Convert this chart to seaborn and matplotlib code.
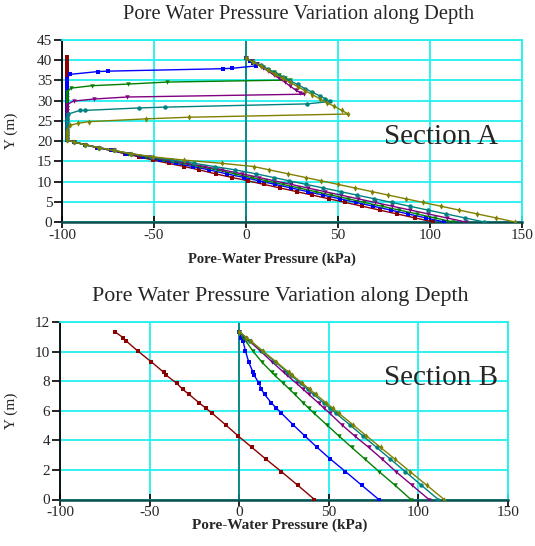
import matplotlib
matplotlib.use("Agg")
import matplotlib.pyplot as plt
import pandas as pd
import seaborn as sns

# ---------------------------------------------------------------- series
STEPS = ["Step 1", "Step 2", "Step 3", "Step 4", "Step 5", "Step 6"]
COLORS = ["#8b0000", "#0000ff", "#008000", "#800080", "#008080", "#808000"]
MARKERS = ["s", "s", "v", "v", "o", "d"]

# ---------------------------------------------------------------- Section A
# upper profile (surface down to the suction front), per step
A_UP_P = {
    "Step 1": [],
    "Step 2": [0, 2.0, 4.0, 5.4, -7.6, -12.7, -75.2, -80.3, -95.7],
    "Step 3": [0, 3, 6, 9, 12, 15, 18, 21, 24, -43.1, -64.2, -83.7, -95.1],
    "Step 4": [0, 3, 6, 9, 12, 15, 18, 21, 24, 27, 29.5, 31.7, -64.9, -82.8, -93.7],
    "Step 5": [0, 4, 8, 12, 16, 20, 24, 28, 32, 36, 40, 43, 45.8, 33.1, -44.2,
               -58.0, -87.3, -90.2, -96.6],
    "Step 6": [0, 4, 8, 12, 16, 20, 24, 28, 32, 36, 40, 44, 48, 52, 55.6, -31.2,
               -54.4, -85.5, -91.5, -95.5],
}
A_UP_Y = {
    "Step 1": [],
    "Step 2": [40.5, 39.8, 39.2, 38.6, 38.0, 37.9, 37.3, 37.2, 36.5],
    "Step 3": [40.5, 39.8, 39.1, 38.4, 37.7, 37.0, 36.3, 35.6, 35.1, 34.6, 34.1, 33.7, 33.1],
    "Step 4": [40.5, 39.8, 39.0, 38.2, 37.3, 36.4, 35.5, 34.6, 33.6, 32.6, 32.0, 31.6,
               30.9, 30.4, 29.9],
    "Step 5": [40.5, 39.6, 38.7, 37.8, 36.8, 35.9, 34.9, 34.0, 33.0, 32.1, 31.2, 30.5,
               29.8, 29.2, 28.4, 28.2, 27.6, 27.6, 26.7],
    "Step 6": [40.5, 39.5, 38.5, 37.5, 36.5, 35.5, 34.5, 33.5, 32.5, 31.5, 30.5, 29.5,
               28.6, 27.6, 26.7, 25.9, 25.5, 24.8, 24.4, 23.9],
}

# residual suction zone
A_STEM_P = -97.5
A_STEM_Y = [40.7, 40.1, 39.4, 38.6, 37.8, 37.0, 36.2, 35.4, 34.6, 33.8, 33.0, 32.2,
            31.4, 30.6, 29.8, 29.0, 28.2, 27.4, 26.6, 25.8, 25.0, 24.2, 23.4, 22.6,
            21.8, 21.0]

# lower profile, shared nodes from Y = 20.3 m to the base
A_LOW_Y = [20.3, 19.8, 19.1, 18.4, 17.7, 16.9, 16.1, 15.3, 14.5, 13.7, 12.9, 11.9,
           11.0, 10.2, 9.3, 8.4, 7.5, 6.65, 5.75, 4.85, 3.9, 2.95, 2.0, 1.0, 0.0]
A_LOW_P = {
    "Step 1": [-97.5, -93.5, -87.5, -81, -73.5, -66, -58, -50.5, -42, -33.5, -25.5,
               -16.5, -7.5, 0.9, 9.7, 18.7, 27.6, 36.0, 44.9, 53.8, 63.2, 72.6, 82.0,
               92.0, 101.8],
    "Step 2": [-97.5, -93.5, -87.5, -80.5, -73, -65, -56, -47, -38, -29, -20, -10.5,
               -1.0, 6.9, 15.8, 24.7, 33.6, 42.0, 50.9, 59.8, 69.2, 78.6, 88.0, 97.9,
               107.8],
    "Step 3": [-97.5, -93.5, -87.5, -80.5, -72.5, -64, -54.5, -44.5, -34.5, -25, -16,
               -6, 3.0, 11.0, 20.0, 28.9, 37.9, 46.4, 55.4, 64.3, 73.8, 83.3, 92.8,
               102.7, 112.7],
    "Step 4": [-97.5, -93.5, -87.5, -80, -72, -63, -52.5, -42, -32, -22.5, -13, -2,
               7.1, 15.3, 24.5, 33.7, 42.9, 51.6, 60.7, 69.9, 79.6, 89.3, 99.0, 109.2,
               119.4],
    "Step 5": [-97.5, -93.5, -87.5, -80, -72, -62.5, -51.5, -40, -28, -17, -6, 5.6,
               15.0, 23.3, 32.7, 42.1, 51.5, 60.3, 69.7, 79.1, 89.0, 98.8, 108.7, 119.1,
               129.5],
    "Step 6": [-97.5, -93.5, -87.5, -80, -72, -62.5, -50.5, -33.5, -13, 4.3, 12.6,
               23.0, 32.4, 40.7, 50.0, 59.3, 68.6, 77.4, 86.7, 96.0, 106.0, 115.8, 125.6,
               136.0, 146.2],
}

# ---------------------------------------------------------------- Section B
B_Y = [11.35, 10.95, 10.72, 10.04, 9.3, 8.6, 8.41, 7.85, 7.44, 7.10, 6.52, 6.17,
       5.83, 5.05, 4.3, 3.52, 2.73, 1.89, 0.97, 0.0]
B_P = {
    "Step 1": [-69.4, -64.9, -63.1, -56.6, -49.0, -42.1, -40.8, -34.8, -31.5, -27.9,
               -22.2, -18.6, -15.1, -7.6, -0.6, 7.1, 14.9, 23.5, 32.6, 42.0],
    "Step 2": [0, 1.2, 2.1, 3.5, 5.3, 7.7, 8.3, 11.1, 12.4, 14.2, 18.0, 20.8, 23.6,
               30.1, 36.6, 43.5, 50.9, 59.3, 68.3, 77.9],
    "Step 3": [0, 2.3, 3.7, 7.6, 12.6, 18.2, 19.7, 24.7, 28.2, 31.1, 35.8, 38.8, 41.8,
               48.8, 55.6, 62.8, 70.2, 78.0, 86.9, 95.8],
    "Step 4": [0, 3.5, 5.6, 11.8, 18.4, 24.8, 26.6, 32.0, 35.8, 38.9, 44.3, 47.4, 50.5,
               57.3, 64.4, 72.3, 79.8, 87.4, 96.4, 105.9],
    "Step 5": [0, 3.9, 6.2, 12.8, 20.1, 26.9, 28.8, 34.3, 38.3, 41.6, 47.3, 50.7, 54.0,
               61.7, 69.0, 76.7, 84.4, 92.6, 101.6, 111.1],
    "Step 6": [0, 4.0, 6.4, 13.2, 20.7, 27.7, 29.6, 35.3, 39.4, 42.8, 48.7, 52.2, 55.6,
               63.5, 71.0, 78.9, 86.9, 95.3, 104.6, 114.4],
}

TITLE = "Pore Water Pressure Variation along Depth"
X_LABEL = "Pore-Water Pressure (kPa)"
Y_LABEL = "Y (m)"

# ---------------------------------------------------------------- tables
rows_a = []
for step in STEPS:
    up_p, up_y = A_UP_P[step], A_UP_Y[step]
    top = up_y[-1] - 0.5 if up_y else 99
    stem_y = [v for v in A_STEM_Y if v < top]
    ps = up_p + [A_STEM_P] * len(stem_y) + A_LOW_P[step]
    ys = up_y + stem_y + A_LOW_Y
    rows_a += [(step, p, y) for p, y in zip(ps, ys)]
df_a = pd.DataFrame(rows_a, columns=["step", "pressure", "elev"])

rows_b = [(step, p, y) for step in STEPS for p, y in zip(B_P[step], B_Y)]
df_b = pd.DataFrame(rows_b, columns=["step", "pressure", "elev"])

# ---------------------------------------------------------------- figure
sns.set_theme(style="white")
plt.rcParams["font.family"] = ["Liberation Serif", "DejaVu Serif"]
plt.rcParams["axes.unicode_minus"] = False

GRID = "#22f0f0"
ZERO = "#0d7f7f"
BASE = "#0b4d4d"

fig = plt.figure(figsize=(5.35, 5.46), dpi=100)
ax_a = fig.add_axes([62 / 535, 1 - 222 / 546, 460 / 535, 182 / 546])
ax_b = fig.add_axes([60 / 535, 1 - 499.5 / 546, 448 / 535, 177.5 / 546])


def draw(ax, df, ymax, ystep, label, label_xy, xlab_xy, xlab_size):
    ax.set_xlim(-100, 150)
    ax.set_ylim(0, ymax)
    ax.set_xticks(range(-100, 151, 50))
    ax.set_yticks(range(0, ymax + 1, ystep))
    ax.grid(True, color=GRID, lw=1.3, zorder=0)
    ax.set_axisbelow(True)
    ax.axvline(0, color=ZERO, lw=1.3, zorder=1.5)
    sns.lineplot(data=df, x="pressure", y="elev", hue="step", style="step",
                 hue_order=STEPS, style_order=STEPS, palette=COLORS,
                 markers=MARKERS, dashes=False, sort=False, estimator=None,
                 legend=False, ax=ax, lw=1.0, markersize=3.2,
                 markeredgewidth=0, zorder=3)
    for side in ("top", "right"):
        ax.spines[side].set_color(GRID)
        ax.spines[side].set_linewidth(1.3)
    ax.spines["left"].set_color("black")
    ax.spines["left"].set_linewidth(1.3)
    ax.spines["bottom"].set_color(BASE)
    ax.spines["bottom"].set_linewidth(1.8)
    ax.tick_params(axis="x", direction="inout", length=8, width=1.2,
                   color="black", labelsize=11, pad=1, bottom=True)
    ax.tick_params(axis="y", direction="out", length=6, width=1.2,
                   color="black", labelsize=11, pad=1, left=True)
    ax.set_xlabel(X_LABEL, fontsize=xlab_size, fontweight="bold")
    ax.set_ylabel(Y_LABEL, fontsize=11)
    ax.xaxis.set_label_coords(*xlab_xy)
    ax.text(*label_xy, label, fontsize=21, ha="center", va="center", zorder=4)


draw(ax_a, df_a, 45, 5, "Section A", (106, 21.0), (0.457, -0.17), 10.5)
ax_a.yaxis.set_label_coords(-0.095, 0.5)
draw(ax_b, df_b, 12, 2, "Section B", (112.5, 8.2), (0.491, -0.107), 11.0)
ax_b.yaxis.set_label_coords(-0.093, 0.5)

fig.text(299 / 535, 1 - 14 / 546, TITLE, fontsize=14.8, ha="center", va="center")
fig.text(280 / 535, 1 - 296 / 546, TITLE, fontsize=15.8, ha="center", va="center")

fig.savefig("out.png", dpi=100)
